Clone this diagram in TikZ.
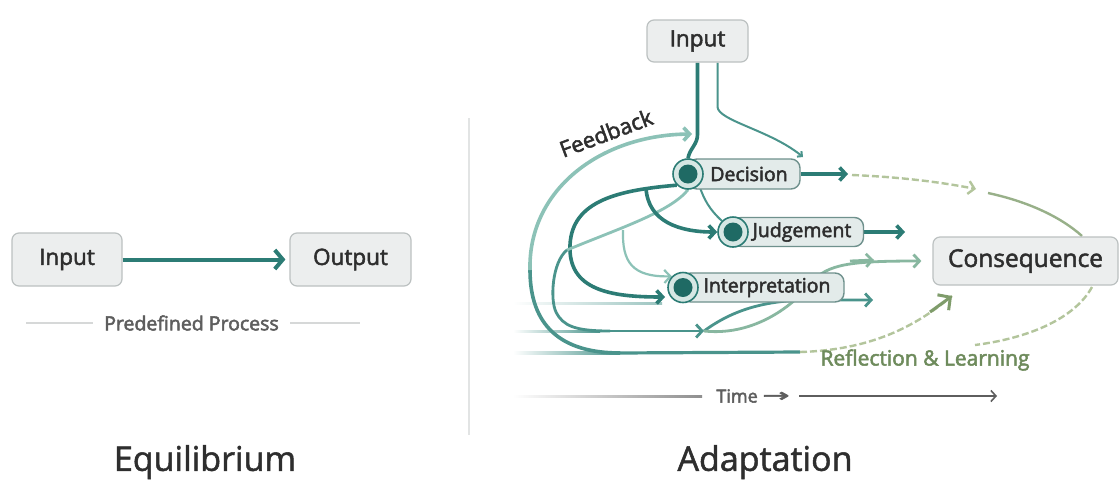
\documentclass[tikz,border=0pt]{standalone}
\usepackage{fontspec}
\usepackage{graphicx}
\setmainfont{Open Sans}
\newfontfamily\symfont{DejaVu Sans}
\usetikzlibrary{arrows.meta,backgrounds}

% slightly heavier lettering: fill and stroke the glyphs
\newcommand\hv[1]{\special{pdf:literal direct 2 Tr 0.5 w}#1\special{pdf:literal direct 0 Tr}}

\definecolor{tealD}{HTML}{2C7C75}
\definecolor{tealM}{HTML}{4A948C}
\definecolor{tealL}{HTML}{8CC2B7}
\definecolor{grnL}{HTML}{B3C59C}
\definecolor{grnD}{HTML}{7F9C6B}
\definecolor{grnT}{HTML}{6E8B5C}
\definecolor{txt}{HTML}{2E2E2E}
\definecolor{greyT}{HTML}{5E5E5E}
\definecolor{boxfill}{HTML}{ECEEEE}
\definecolor{boxline}{HTML}{BCC1C1}
\definecolor{pillfill}{HTML}{E3EBEA}
\definecolor{pillline}{HTML}{6F918D}
\definecolor{ringfill}{HTML}{D6E7E4}
\definecolor{dotfill}{HTML}{1F6A64}
\definecolor{rulegrey}{HTML}{D6D8D8}

\begin{document}
\begin{tikzpicture}[x=1pt,y=-1pt,
  box/.style={draw=boxline, fill=boxfill, line width=1.2pt, rounded corners=7pt, text=txt, inner sep=0pt},
  pill/.style={draw=pillline, fill=pillfill, line width=1.4pt, rounded corners=9pt, text=txt,
    font=\fontsize{19.5}{22}\selectfont, inner sep=0pt},
  ring/.style={circle, draw=tealD, fill=ringfill, line width=1.6pt, minimum size=30pt, inner sep=0pt},
  dot/.style={circle, fill=dotfill, minimum size=19pt, inner sep=0pt},
  arr/.style={-{Straight Barb[length=6pt,width=13pt]}},
  bigarr/.style={-{Straight Barb[length=9pt,width=19pt]}},
  smallarr/.style={-{Straight Barb[length=3.5pt,width=7pt]}},
  thick1/.style={line width=3.6pt},
  mid1/.style={line width=2.8pt},
  thin1/.style={line width=2pt},
  dashgrn/.style={grnL, line width=2.4pt, dash pattern=on 7pt off 3pt},
]
\useasboundingbox (0,0) rectangle (1119,483);

% ---------- Equilibrium ----------
\node[box, minimum width=110pt, minimum height=53pt, font=\fontsize{22.5}{26}\selectfont] (inL) at (67,259.5) {\hv{Input}};
\node[box, minimum width=121pt, minimum height=53pt, font=\fontsize{22.5}{26}\selectfont] (outL) at (350.5,259.5) {\hv{Output}};
\draw[tealD, line width=4pt, -{Straight Barb[length=8pt,width=19pt]}, shorten >=4pt] (inL) -- (outL);

\node[font=\fontsize{19.5}{22}\selectfont, text=greyT] (pp) at (191.5,323) {\hv{Predefined Process}};
\coordinate (ppL) at (26,323);
\coordinate (ppR) at (360,323);
\draw[rulegrey, line width=1.6pt, shorten >=8pt] (ppL) -- (pp.west);
\draw[rulegrey, line width=1.6pt, shorten <=8pt] (pp.east) -- (ppR);

\node[font=\fontsize{34}{38}\selectfont, text=txt] (eq) at (205,462) {\hv{Equilibrium}};

% divider
\draw[rulegrey!70, line width=1.6pt] (469,118) -- (469,435);

% ---------- Adaptation ----------
\node[box, minimum width=101pt, minimum height=42pt, font=\fontsize{22.5}{26}\selectfont] (inR) at (697.5,41) {\hv{Input}};
\node[box, minimum width=185pt, minimum height=48pt, font=\fontsize{24.5}{28}\selectfont] (cons) at (1025.5,261) {\hv{Consequence}};

\node[pill, minimum width=112pt, minimum height=30pt] (dec) at (744,174) {\hspace*{10pt}\hv{Decision}};
\node[ring] (decC) at (688,174) {};
\node[dot] at (decC) {};
\node[pill, minimum width=131pt, minimum height=29pt] (jud) at (798,232) {\hspace*{8pt}\hv{Judgement}};
\node[ring] (judC) at (733,232) {};
\node[dot] at (judC) {};
\node[pill, minimum width=162pt, minimum height=29pt] (intp) at (763,287.5) {\hspace*{8pt}\hv{Interpretation}};
\node[ring] (intC) at (683,287.5) {};
\node[dot] at (intC) {};

\node[font=\fontsize{22}{25}\selectfont, text=txt, rotate=20.5] (fb) at (606,133) {\hv{Feedback}};
\node[font=\fontsize{21}{24}\selectfont, text=grnT] (refl) at (925,360) {\hv{Reflection \& Learning}};
\node[font=\fontsize{18}{21}\selectfont, text=greyT] (time) at (753,396) {\hv{Time \raisebox{1pt}{\scalebox{1.8}[1]{\symfont →}}}};
\node[font=\fontsize{34}{38}\selectfont, text=txt] (ad) at (765,462) {\hv{Adaptation}};

% free ends and bend points of the flow lines
\coordinate (tL) at (513,396);
\coordinate (tR) at (997,396);
\coordinate (l1) at (513,302);
\coordinate (l2) at (513,332);
\coordinate (l3) at (513,353);
\coordinate (ibr) at (803,157);
\coordinate (dArr) at (848,174);
\coordinate (jArr) at (905,232);
\coordinate (iArr) at (873,300);
\coordinate (l2Arr) at (704,331);
\coordinate (fbArr) at (692,134);
\coordinate (dashA) at (852,175);
\coordinate (dashB) at (976,189);
\coordinate (loopA) at (988,193);
\coordinate (loopB) at (1082,236);
\coordinate (loopC) at (1092,287);
\coordinate (loopD) at (975,345);
\coordinate (bendL) at (800,352);
\coordinate (reflArr) at (952,296);
\coordinate (midTip) at (874,260);
\coordinate (br) at (623,230);
\coordinate (cBend) at (567,250);

\begin{scope}[on background layer]
  \fill[white] (0,0) rectangle (1119,483);
  % faint incoming lines on the left
  \shade[left color=white, right color=tealM!55] (l1) rectangle (662,304);
  \shade[left color=white, right color=tealM] ([yshift=1.3pt]l2) rectangle (600,332.3);
  \shade[left color=white, right color=tealM] ([yshift=1.6pt]l3) rectangle (620,354.6);
  \draw[tealM, mid1, arr] (598,331) -- (l2Arr);
  \draw[tealM, line width=3.2pt] (618,353) -- (bendL);

  % time axis
  \shade[left color=white, right color=greyT!70] ([yshift=1pt]tL) rectangle (702,397);
  \draw[greyT, line width=1.6pt, -{Straight Barb[length=5pt,width=11pt]}, shorten <=6pt] (time.east) -- (tR);

  % input into decision
  \draw[tealD, thick1] (inR.south) -- ++(0,72) to[out=-90,in=80] (decC.north);
  \draw[tealM, thin1, smallarr] ([xshift=20pt]inR.south) -- ++(0,44)
     .. controls +(0,14) and (770,130) .. (ibr);

  % feedback arc (outer loop)
  \draw[tealM, thick1] (620,353) .. controls (560,353) and (530,325) .. (530,270);
  \draw[tealL, thick1, arr] (530,270) .. controls (528,190) and (600,135) .. (fbArr);

  % decision towards interpretation (dark inner loop)
  \draw[tealD, thick1, arr] (decC.south west) .. controls (620,190) and (572,200) .. (570,245)
     .. controls (568,290) and (610,297) .. (665,297);
  % light strand leaving decision, turning into the middle line
  \draw[tealL, mid1] (decC.south) .. controls (670,212) and (620,228) .. (cBend);
  \draw[tealM, mid1] (cBend) .. controls (552,262) and (550,300) .. (556,312)
     .. controls (563,326) and (575,331) .. (610,331);
  % light branch into interpretation
  \draw[tealL, line width=2.2pt, arr] (br) .. controls (622,262) and (632,277) .. (intC.north west);
  % decision to judgement
  \draw[tealD, thick1, arr] (646,188) .. controls (648,222) and (680,232) .. (judC.west);
  \draw[tealM, thin1] (decC.south east) .. controls (704,200) and (710,210) .. (judC.north west);

  % outputs
  \draw[tealD, thick1, arr] (dec.east) -- (dArr);
  \draw[tealD, thick1, arr] (jud.east) -- (jArr);

  % crossing strands towards consequence
  \draw[tealM, mid1, arr] (l2Arr) .. controls (730,312) and (760,301) .. (805,300) -- (iArr);
  \draw[tealL!70!grnD, mid1, shorten >=11pt, arr] (l2Arr) .. controls (750,336) and (790,310) .. (812,282)
     .. controls (828,264) and (850,261) .. (cons.west);
  \draw[tealL!70!grnD, mid1, arr] (850,261) -- (midTip);

  % consequence loop
  \draw[dashgrn, arr] (dashA) .. controls (900,177) and (940,182) .. (dashB);
  \draw[grnD!80, line width=2.4pt] (loopA) .. controls (1030,202) and (1062,218) .. (loopB);
  \draw[dashgrn] (loopC) .. controls (1075,318) and (1030,338) .. (loopD);
  \draw[dashgrn] (bendL) .. controls (870,350) and (915,327) .. (reflArr);
  \draw[grnD, line width=3pt, bigarr] (930,312) -- (reflArr);
\end{scope}
\end{tikzpicture}
\end{document}
